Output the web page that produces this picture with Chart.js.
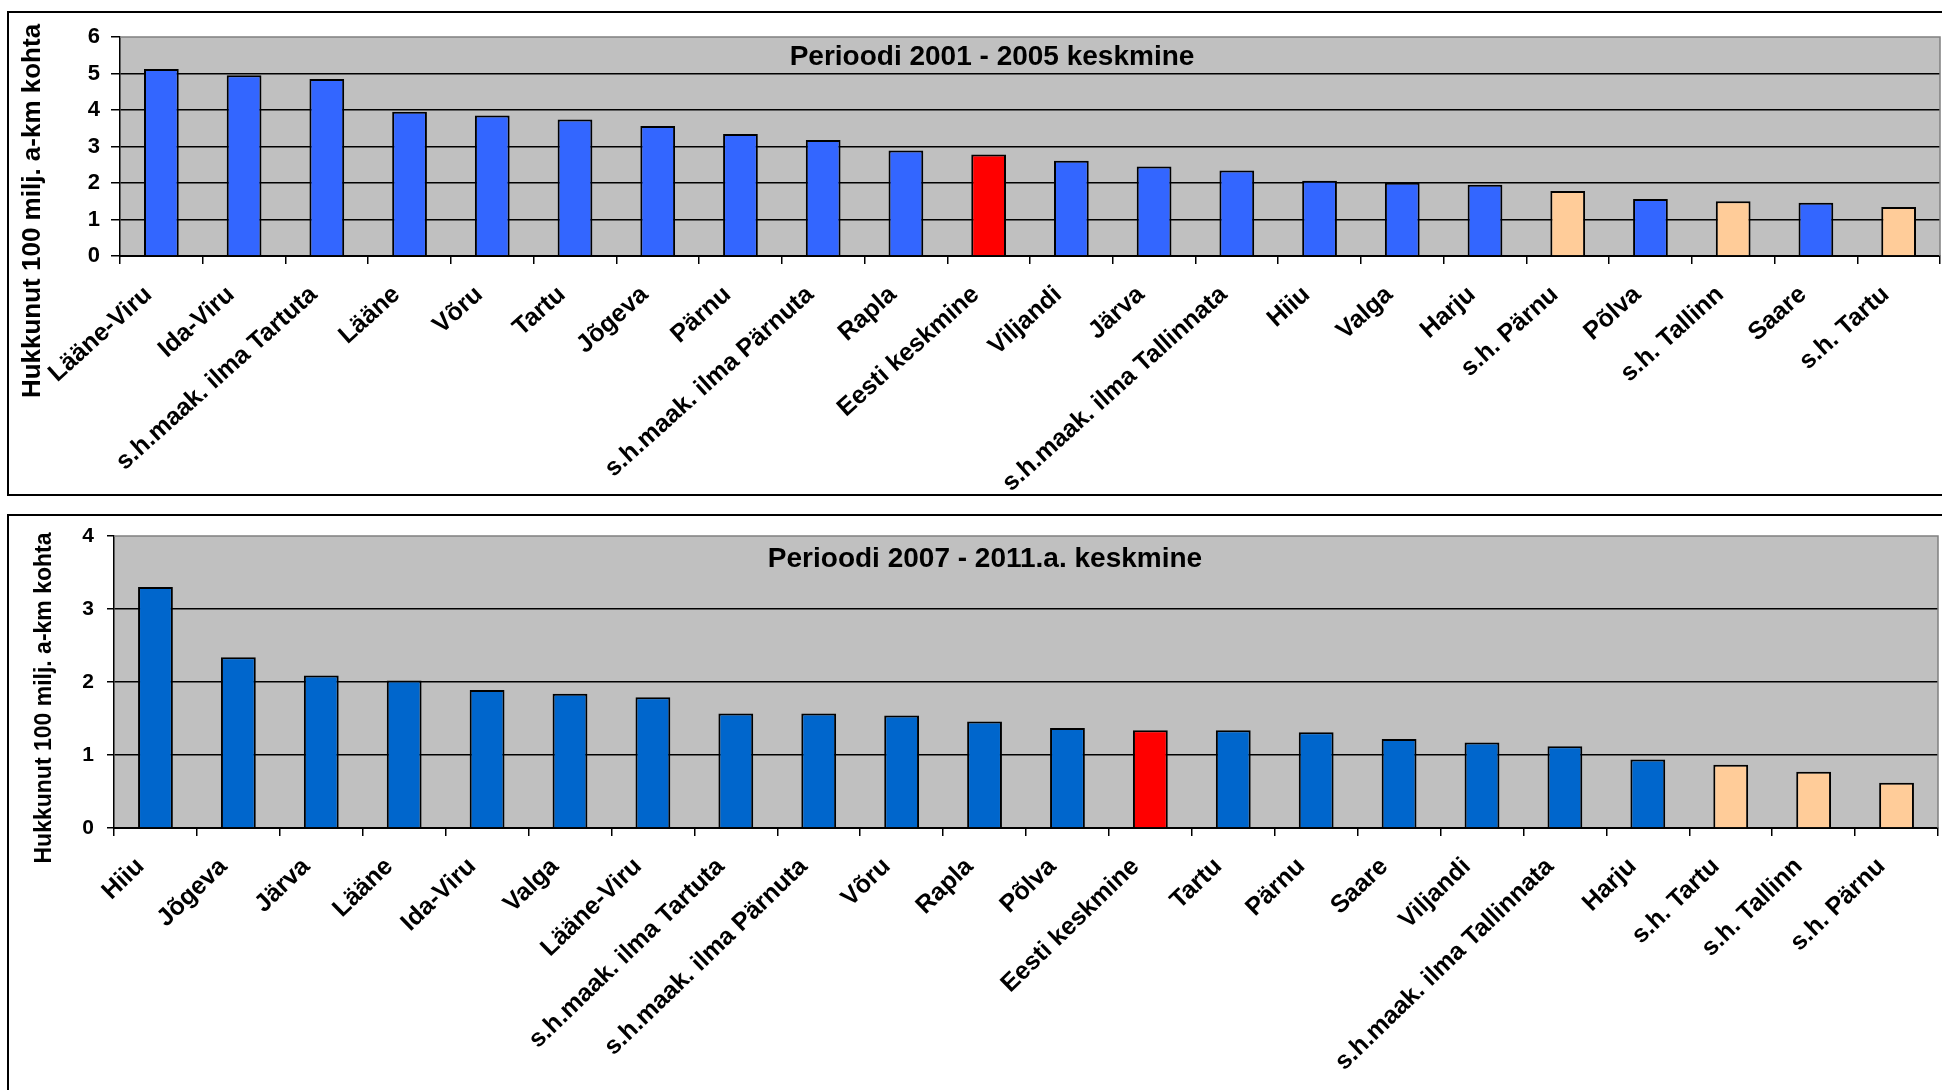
<!DOCTYPE html>
<html>
<head>
<meta charset="utf-8">
<title>Hukkunud 100 milj. a-km kohta</title>
<script src="https://cdn.jsdelivr.net/npm/chart.js@4.4.1/dist/chart.umd.min.js"></script>
<style>
    body { margin: 0; background: #fff; width: 1942px; height: 1090px; overflow: hidden; position: relative; }
    .frame { position: absolute; border: 2px solid #000; box-sizing: border-box; }
    #frame1 { left: 7px; top: 11px; width: 1980px; height: 485px; }
    #frame2 { left: 7px; top: 514px; width: 1980px; height: 600px; }
    .wrap { position: absolute; left: 0; width: 1942px; }
    #wrap1 { top: 0; height: 500px; }
    #wrap2 { top: 500px; height: 590px; }
</style>
</head>
<body>
<div class="frame" id="frame1"></div>
<div class="frame" id="frame2"></div>
<div class="wrap" id="wrap1"><canvas id="chart1"></canvas></div>
<div class="wrap" id="wrap2"><canvas id="chart2"></canvas></div>

<script>
// 2001 - 2005
var labels2001 = ['Lääne-Viru', 'Ida-Viru', 's.h.maak. ilma Tartuta', 'Lääne', 'Võru', 'Tartu', 'Jõgeva', 'Pärnu',
    's.h.maak. ilma Pärnuta', 'Rapla', 'Eesti keskmine', 'Viljandi', 'Järva', 's.h.maak. ilma Tallinnata', 'Hiiu',
    'Valga', 'Harju', 's.h. Pärnu', 'Põlva', 's.h. Tallinn', 'Saare', 's.h. Tartu'];
var values2001 = [5.12, 4.95, 4.85, 3.95, 3.85, 3.74, 3.56, 3.34, 3.18, 2.89, 2.78, 2.61, 2.45, 2.34, 2.06,
    2.01, 1.95, 1.78, 1.56, 1.50, 1.46, 1.34];

// 2007 - 2011
var labels2007 = ['Hiiu', 'Jõgeva', 'Järva', 'Lääne', 'Ida-Viru', 'Valga', 'Lääne-Viru', 's.h.maak. ilma Tartuta',
    's.h.maak. ilma Pärnuta', 'Võru', 'Rapla', 'Põlva', 'Eesti keskmine', 'Tartu', 'Pärnu', 'Saare', 'Viljandi',
    's.h.maak. ilma Tallinnata', 'Harju', 's.h. Tartu', 's.h. Tallinn', 's.h. Pärnu'];
var values2007 = [3.30, 2.34, 2.09, 2.02, 1.89, 1.84, 1.79, 1.57, 1.57, 1.54, 1.46, 1.37, 1.34, 1.34, 1.31, 1.22,
    1.17, 1.12, 0.94, 0.865, 0.77, 0.62];

var yTicks2001 = [0, 1, 2, 3, 4, 5, 6];
var yTicks2007 = [0, 1, 2, 3, 4];

var FONT = "'Liberation Sans', Arial, sans-serif";

function barColors(labels, blue) {
    return labels.map(function (l) {
        if (l === 'Eesti keskmine') return '#FF0000';
        if (l.indexOf('s.h. ') === 0) return '#FFCC99';
        return blue;
    });
}

// grey plot area + grey top/right edge
var plotBg = {
    id: 'plotBg',
    beforeDraw: function (chart) {
        var a = chart.chartArea, ctx = chart.ctx;
        ctx.save();
        ctx.fillStyle = '#C0C0C0';
        ctx.fillRect(a.left, a.top, a.right - a.left, a.bottom - a.top);
        ctx.restore();
    },
    beforeDatasetsDraw: function (chart) {
        var a = chart.chartArea, ctx = chart.ctx;
        ctx.save();
        ctx.strokeStyle = '#808080';
        ctx.lineWidth = 1.5;
        ctx.beginPath();
        ctx.moveTo(a.left, a.top);
        ctx.lineTo(a.right, a.top);
        ctx.lineTo(a.right, a.bottom);
        ctx.stroke();
        ctx.restore();
    }
};

// title sits inside the plot, axis title is centred on the whole box
var freeText = {
    id: 'freeText',
    afterDraw: function (chart, args, opts) {
        var ctx = chart.ctx;
        ctx.save();
        ctx.fillStyle = '#000';
        ctx.textAlign = 'center';
        ctx.textBaseline = 'middle';
        ctx.font = 'bold ' + opts.titleSize + 'px ' + FONT;
        ctx.fillText(opts.title, opts.titleX, opts.titleY);
        ctx.translate(opts.yTitleX, opts.yTitleY);
        ctx.rotate(-Math.PI / 2);
        ctx.font = 'bold ' + opts.yTitleSize + 'px ' + FONT;
        ctx.fillText(opts.yTitle, 0, 0);
        ctx.restore();
    }
};

function CreateBarChart(element, labels, values, yTicks, blue, o) {
    var max = yTicks[yTicks.length - 1];
    var config = {
        type: 'bar',
        data: {
            labels: labels,
            datasets: [{
                data: values,
                backgroundColor: barColors(labels, blue),
                borderColor: '#000',
                borderWidth: 2,
                categoryPercentage: 1,
                barPercentage: 0.42
            }]
        },
        options: {
            responsive: true,
            maintainAspectRatio: false,
            animation: false,
            layout: { padding: { top: o.top, right: o.right, left: 0, bottom: 0 } },
            plugins: {
                legend: { display: false },
                tooltip: { enabled: false },
                freeText: o.text
            },
            scales: {
                x: {
                    afterFit: function (s) { s.height = o.xHeight; },
                    grid: { drawOnChartArea: false, drawTicks: true, tickLength: 8, color: '#000', lineWidth: 1.5 },
                    border: { display: true, color: '#000', width: 2 },
                    ticks: {
                        autoSkip: false,
                        minRotation: o.rotation,
                        maxRotation: o.rotation,
                        padding: 16,
                        labelOffset: o.labelOffset,
                        color: '#000',
                        font: { family: FONT, size: 25, weight: 'bold' }
                    }
                },
                y: {
                    min: yTicks[0],
                    max: max,
                    afterFit: function (s) { s.width = o.yWidth; },
                    afterBuildTicks: function (s) { s.ticks = yTicks.map(function (v) { return { value: v }; }); },
                    grid: {
                        color: function (c) { return c.tick && c.tick.value === max ? 'rgba(0,0,0,0)' : '#000'; },
                        tickColor: '#000',
                        lineWidth: 1.5,
                        tickLength: o.tickLength,
                        drawTicks: true
                    },
                    border: { display: true, color: '#000', width: 1.5 },
                    ticks: {
                        padding: o.tickPad,
                        color: '#000',
                        font: { family: FONT, size: o.tickSize, weight: 'bold' }
                    }
                }
            }
        },
        plugins: [plotBg, freeText]
    };

    var ctx = document.querySelector(element);
    return new Chart(ctx, config);
}

CreateBarChart('#chart1', labels2001, values2001, yTicks2001, '#3366FF', {
    top: 37, right: 2, xHeight: 244, yWidth: 120, tickLength: 9, tickPad: 11, tickSize: 22,
    labelOffset: -13, rotation: 42,
    text: {
        title: 'Perioodi 2001 - 2005 keskmine', titleX: 992, titleY: 57, titleSize: 28,
        yTitle: 'Hukkunut 100 milj. a-km kohta', yTitleX: 33, yTitleY: 211, yTitleSize: 26
    }
});

CreateBarChart('#chart2', labels2007, values2007, yTicks2007, '#0066CC', {
    top: 36, right: 4, xHeight: 262, yWidth: 114, tickLength: 7, tickPad: 13, tickSize: 21,
    labelOffset: -15, rotation: 44,
    text: {
        title: 'Perioodi 2007 - 2011.a. keskmine', titleX: 985, titleY: 59, titleSize: 28,
        yTitle: 'Hukkunut 100 milj. a-km kohta', yTitleX: 45, yTitleY: 198, yTitleSize: 23
    }
});
</script>
</body>
</html>
